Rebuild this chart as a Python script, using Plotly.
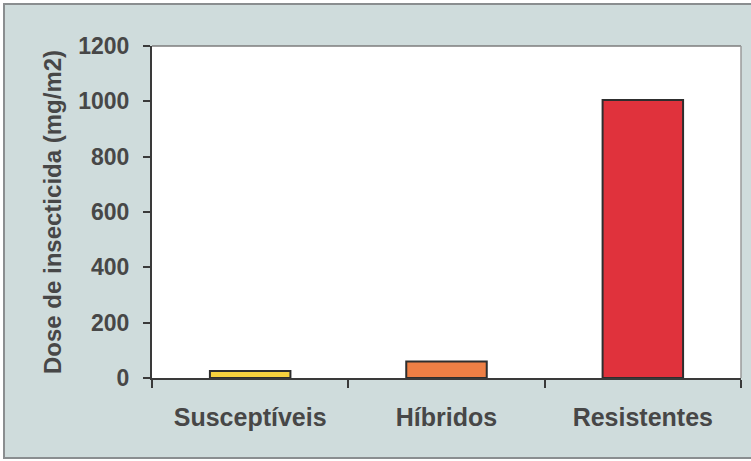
import plotly.graph_objects as go

# Insecticide dose needed per population group
groups = ["Susceptíveis", "Híbridos", "Resistentes"]
doses = [25, 60, 1005]
bar_colors = ["#f7d23e", "#ee7f45", "#e0323c"]
y_ticks = [0, 200, 400, 600, 800, 1000, 1200]

W, H = 751, 461
ink = "#474747"
font_family = "Liberation Sans, Arial, sans-serif"

fig = go.Figure(
    go.Bar(
        x=groups,
        y=doses,
        marker=dict(color=bar_colors, line=dict(color="#2e2e2e", width=2)),
        width=0.41,
    )
)

fig.update_layout(
    width=W,
    height=H,
    margin=dict(l=152, r=10, t=46, b=83),
    paper_bgcolor="#ffffff",
    plot_bgcolor="#ffffff",
    showlegend=False,
    font=dict(family=font_family, color=ink),
    shapes=[
        # panel behind the chart
        dict(type="rect", xref="paper", yref="paper",
             x0=-148 / 589, x1=1 + 12 / 589, y0=-80 / 332, y1=1 + 42 / 332,
             fillcolor="#cfdcdc", line=dict(color="#8a8e90", width=2),
             layer="below"),
        # white plotting area
        dict(type="rect", xref="paper", yref="paper", x0=0, x1=1, y0=0, y1=1,
             fillcolor="#ffffff", line=dict(width=0), layer="below"),
        # plot frame top/right
        dict(type="line", xref="paper", yref="paper", x0=0, x1=1, y0=1, y1=1,
             line=dict(color="#7d7d7d", width=1.5)),
        dict(type="line", xref="paper", yref="paper", x0=1, x1=1, y0=0, y1=1,
             line=dict(color="#9a9a9a", width=1.5)),
    ],
)

fig.update_yaxes(
    range=[0, 1200],
    tickvals=y_ticks,
    ticks="outside",
    ticklen=7,
    tickwidth=1.5,
    tickcolor="#3a3a3a",
    ticklabelstandoff=9,
    showline=True,
    linecolor="#3a3a3a",
    linewidth=2,
    showgrid=False,
    zeroline=False,
    tickfont=dict(size=23, family=font_family, color=ink, weight="bold"),
    title=dict(text="<b>Dose de insecticida (mg/m2)</b>",
               font=dict(size=24, family=font_family, color=ink), standoff=10),
)

fig.update_xaxes(
    ticks="outside",
    tickson="boundaries",
    ticklen=8,
    tickwidth=1.5,
    tickcolor="#3a3a3a",
    ticklabelstandoff=16,
    showline=True,
    linecolor="#3a3a3a",
    linewidth=2,
    showgrid=False,
    tickfont=dict(size=25, family=font_family, color=ink, weight="bold"),
)

fig.write_html("out.html")
